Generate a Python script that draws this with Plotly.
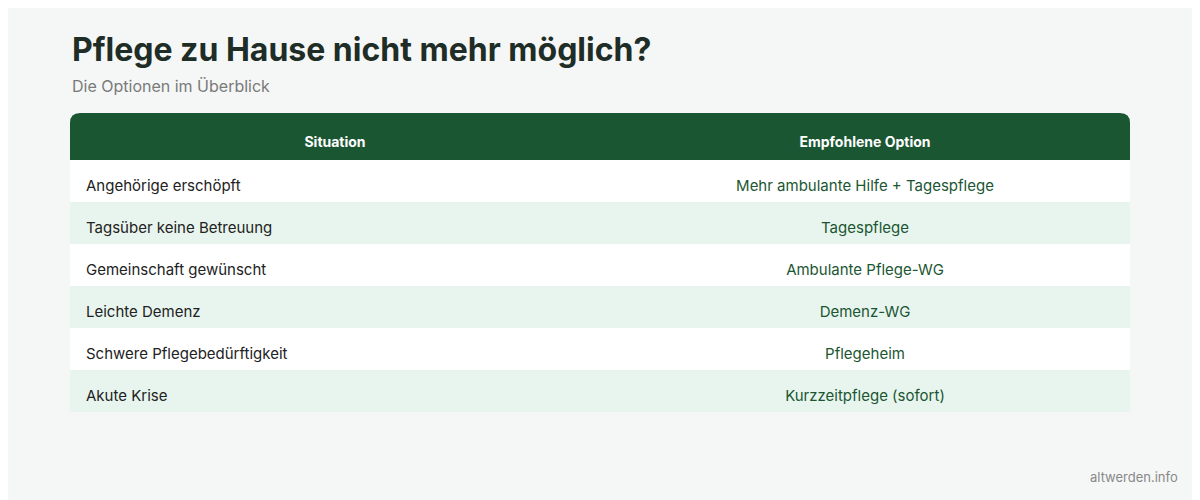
import plotly.graph_objects as go

headers = ["Situation", "Empfohlene Option"]
situations = ["Angehörige erschöpft", "Tagsüber keine Betreuung", "Gemeinschaft gewünscht",
              "Leichte Demenz", "Schwere Pflegebedürftigkeit", "Akute Krise"]
options = ["Mehr ambulante Hilfe + Tagespflege", "Tagespflege", "Ambulante Pflege-WG",
           "Demenz-WG", "Pflegeheim", "Kurzzeitpflege (sofort)"]

W, H = 1200, 500
OFF = 8  # page offset
X0, X1 = 70 - OFF, 1130 - OFF
XM = (X0 + X1) / 2
HT, HB = 113 - OFF, 160 - OFF
RH = 42
def py(y): return 1 - y / H
def px(x): return x / W

shapes = []
r = 10
path = (f"M {px(X0)},{py(HB)} L {px(X0)},{py(HT+r)} Q {px(X0)},{py(HT)} {px(X0+r)},{py(HT)} "
        f"L {px(X1-r)},{py(HT)} Q {px(X1)},{py(HT)} {px(X1)},{py(HT+r)} L {px(X1)},{py(HB)} Z")
shapes.append(dict(type="path", path=path, xref="paper", yref="paper", fillcolor="#1b5632",
                   line=dict(width=0), layer="below"))
for i in range(len(situations)):
    shapes.append(dict(type="rect", xref="paper", yref="paper", x0=px(X0), x1=px(X1),
                       y0=py(HB + RH * (i + 1)), y1=py(HB + RH * i),
                       fillcolor="#ffffff" if i % 2 == 0 else "#e8f5ee", line=dict(width=0), layer="below"))

def tbl(head, vals, color, align, x0, x1):
    return go.Table(
        header=dict(values=[f"<b>{head}</b>"], fill_color="rgba(0,0,0,0)",
                    font=dict(color="white", size=14, family="Inter"), align="center",
                    height=47, line=dict(width=0)),
        cells=dict(values=[vals], fill_color="rgba(0,0,0,0)",
                   font=dict(color=color, size=15, family="Inter"),
                   align=align, height=RH, line=dict(width=0)),
        domain=dict(x=[px(x0), px(x1)], y=[0, py(HT + 12)]),
    )

fig = go.Figure([
    tbl(headers[0], situations, "#222222", "left", X0 + 8, XM - 8),
    tbl(headers[1], options, "#1b5632", "center", XM, X1),
])
fig.update_layout(
    width=W, height=H, margin=dict(l=0, r=0, t=0, b=0),
    paper_bgcolor="#f5f7f6", plot_bgcolor="#f5f7f6", shapes=shapes,
    annotations=[
        dict(text="<b>Pflege zu Hause nicht mehr möglich?</b>", x=px(70-OFF), y=py(50-OFF), xref="paper", yref="paper",
             xanchor="left", yanchor="middle", showarrow=False, font=dict(size=32, color="#1e2d26", family="Inter")),
        dict(text="Die Optionen im Überblick", x=px(70-OFF), y=py(86-OFF), xref="paper", yref="paper",
             xanchor="left", yanchor="middle", showarrow=False, font=dict(size=16, color="#7a7a7a", family="Inter")),
        dict(text="altwerden.info", x=px(1180-OFF), y=py(477-OFF), xref="paper", yref="paper",
             xanchor="right", yanchor="middle", showarrow=False, font=dict(size=13, color="#888888", family="Inter")),
    ],
)
fig.write_html("out.html")
